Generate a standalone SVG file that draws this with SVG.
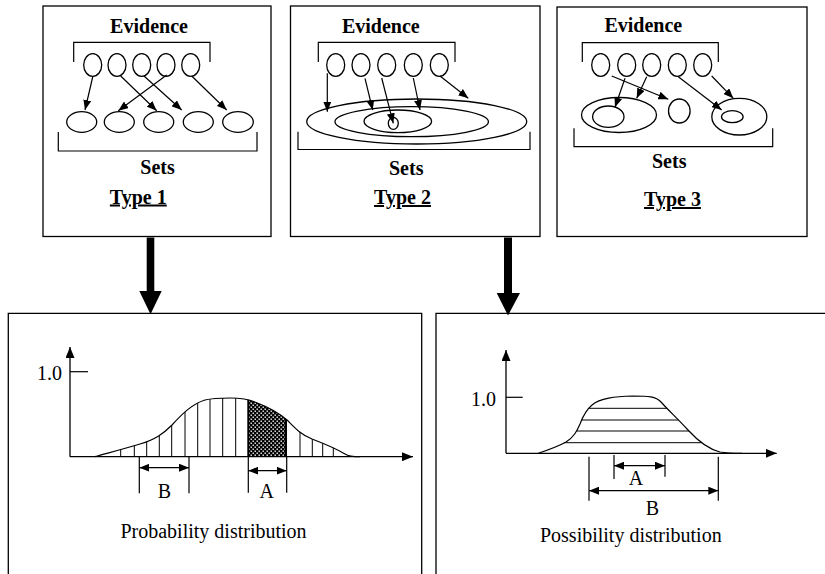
<svg xmlns="http://www.w3.org/2000/svg" width="825" height="574" viewBox="0 0 825 574">
  <style>
    .frame { fill: none; stroke: #000; stroke-width: 1.3; }
    .ln { fill: none; stroke: #000; stroke-width: 1.2; }
    .ell { fill: #fff; stroke: #000; stroke-width: 1.3; }
    .bold { font-family: "Liberation Serif", "Times New Roman", serif; font-weight: bold; font-size: 20px; text-anchor: middle; fill: #000; }
    .reg { font-family: "Liberation Serif", "Times New Roman", serif; font-size: 20px; text-anchor: middle; fill: #000; }
    .arrow { fill: none; stroke: #000; stroke-width: 1.2; marker-end: url(#head); }
    .dim { fill: none; stroke: #000; stroke-width: 1.2; marker-start: url(#head); marker-end: url(#head); }
    .axis { fill: none; stroke: #000; stroke-width: 1.3; marker-end: url(#axhead); }
    .hatch { stroke: #000; stroke-width: 1; }
    .big { fill: #000; stroke: none; }
  </style>
  <defs>
    <marker id="head" viewBox="0 0 10 8" refX="10" refY="4" markerWidth="10" markerHeight="8" markerUnits="userSpaceOnUse" orient="auto-start-reverse">
      <path d="M0,0 L10,4 L0,8 Z" fill="#000"/>
    </marker>
    <marker id="axhead" viewBox="0 0 11 9" refX="11" refY="4.5" markerWidth="11" markerHeight="9" markerUnits="userSpaceOnUse" orient="auto">
      <path d="M0,0 L11,4.5 L0,9 Z" fill="#000"/>
    </marker>
    <pattern id="dots" width="4" height="4" patternUnits="userSpaceOnUse">
      <rect width="4" height="4" fill="#000"/>
      <rect x="0.5" y="0.5" width="1.4" height="1.4" fill="#fff"/>
      <rect x="2.5" y="2.5" width="1.4" height="1.4" fill="#fff"/>
    </pattern>
    <clipPath id="probArea">
      <path d="M95,456.7 C110,452.5 125,448.5 140,444 C155,439.5 163,434 172,425 C182,414 192,404 205,400 C212,398.3 220,398 230,398 C240,398 248,399 255,402 C268,407 278,412 287,420 C295,428 300,434 312,439 C325,444 335,448 345,454 C348,456 352,456.7 360,456.7 Z"/>
    </clipPath>
    <clipPath id="possArea">
      <path d="M538.3,453.3 C548,450 558,446.5 566,442 C574,437 577,431 580,424 C583,416 586,410 592,405 C600,398 615,396.5 633,396 C648,396 656,396.5 661,402 C668,410 678,419 688,430 C698,441 708,449 720,452 C728,453.3 735,453.3 742,453.3 Z"/>
    </clipPath>
  </defs>

  <!-- Type 1: evidence mapped to disjoint sets -->
  <g id="type1">
    <rect class="frame" x="43" y="6" width="228" height="230.5"/>
    <text class="bold" x="149" y="32.7">Evidence</text>
    <path class="ln" d="M73.7,62 V42.3 H210 V62"/>
    <ellipse class="ell" cx="92.7" cy="65" rx="9" ry="11.3"/>
    <ellipse class="ell" cx="117" cy="65" rx="9" ry="11.3"/>
    <ellipse class="ell" cx="141.7" cy="65" rx="9" ry="11.3"/>
    <ellipse class="ell" cx="166" cy="65" rx="9" ry="11.3"/>
    <ellipse class="ell" cx="190.7" cy="65" rx="9" ry="11.3"/>
    <ellipse class="ell" cx="81.7" cy="122" rx="15" ry="10.3"/>
    <ellipse class="ell" cx="119.3" cy="122" rx="15" ry="10.3"/>
    <ellipse class="ell" cx="158.7" cy="122" rx="15" ry="10.3"/>
    <ellipse class="ell" cx="198.3" cy="122" rx="15" ry="10.3"/>
    <ellipse class="ell" cx="238" cy="122" rx="15.3" ry="10.3"/>
    <path class="ln" d="M58.3,132 V151 H257 V132"/>
    <text class="bold" x="157.5" y="174">Sets</text>
    <text class="bold" x="138.3" y="203.5" text-decoration="underline">Type 1</text>
  </g>

  <!-- Type 2: evidence mapped to nested sets -->
  <g id="type2">
    <rect class="frame" x="290.5" y="6" width="249.5" height="230.5"/>
    <text class="bold" x="380.8" y="32.7">Evidence</text>
    <path class="ln" d="M318.3,62 V42.3 H455 V62"/>
    <ellipse class="ell" cx="335.7" cy="65" rx="9" ry="11.3"/>
    <ellipse class="ell" cx="361" cy="65" rx="9" ry="11.3"/>
    <ellipse class="ell" cx="386.7" cy="65" rx="9" ry="11.3"/>
    <ellipse class="ell" cx="413.3" cy="65" rx="9" ry="11.3"/>
    <ellipse class="ell" cx="439.3" cy="65" rx="9" ry="11.3"/>
    <ellipse class="ell" cx="416.7" cy="121.5" rx="110" ry="22.5"/>
    <ellipse class="ell" cx="411.7" cy="121.7" rx="76.7" ry="15"/>
    <ellipse class="ell" cx="397.8" cy="121.3" rx="33.8" ry="11.3"/>
    <ellipse class="ell" cx="393.3" cy="123.3" rx="5" ry="6"/>
    <path class="ln" d="M298,131.7 V149.5 H530 V131.7"/>
    <text class="bold" x="406.2" y="175">Sets</text>
    <text class="bold" x="402.5" y="204" text-decoration="underline">Type 2</text>
  </g>

  <!-- Type 3: evidence mapped to partly nested sets -->
  <g id="type3">
    <rect class="frame" x="557" y="7" width="250" height="229.5"/>
    <text class="bold" x="643.3" y="32.3">Evidence</text>
    <path class="ln" d="M582.3,62 V42.7 H718.3 V62"/>
    <ellipse class="ell" cx="600.7" cy="65" rx="9" ry="11.3"/>
    <ellipse class="ell" cx="626.7" cy="65" rx="9" ry="11.3"/>
    <ellipse class="ell" cx="651.7" cy="65" rx="9" ry="11.3"/>
    <ellipse class="ell" cx="677.3" cy="65" rx="9" ry="11.3"/>
    <ellipse class="ell" cx="702.7" cy="65" rx="9" ry="11.3"/>
    <ellipse class="ell" cx="619" cy="115" rx="37.5" ry="17.5"/>
    <ellipse class="ell" cx="608.3" cy="116.7" rx="15.7" ry="10.7"/>
    <ellipse class="ell" cx="679.3" cy="111" rx="10.8" ry="12"/>
    <ellipse class="ell" cx="739.3" cy="116.7" rx="27.5" ry="18.3"/>
    <ellipse class="ell" cx="732.3" cy="116.7" rx="10.8" ry="6"/>
    <path class="ln" d="M574,128.3 V146.7 H772.7 V128.3"/>
    <text class="bold" x="669.2" y="168.3">Sets</text>
    <text class="bold" x="672.5" y="206" text-decoration="underline">Type 3</text>
  </g>

  <!-- Probability distribution panel -->
  <g id="probability">
    <path class="frame" d="M8.3,580 V313.3 H421.7 V580"/>
    <g clip-path="url(#probArea)">
      <rect x="248.3" y="390" width="37.7" height="70" fill="url(#dots)"/>
      <path class="hatch" d="M120.7,390 V457 M134.3,390 V457 M146.7,390 V457 M159.3,390 V457 M171.7,390 V457 M185,390 V457 M197.7,390 V457 M210,390 V457 M222.7,390 V457 M235.7,390 V457 M300,390 V457 M312.3,390 V457 M322.7,390 V457 M333.3,390 V457"/>
      <path d="M248.3,390 V457 M286,390 V457" stroke="#000" stroke-width="2"/>
    </g>
    <path class="ln" d="M95,456.7 C110,452.5 125,448.5 140,444 C155,439.5 163,434 172,425 C182,414 192,404 205,400 C212,398.3 220,398 230,398 C240,398 248,399 255,402 C268,407 278,412 287,420 C295,428 300,434 312,439 C325,444 335,448 345,454 C348,456 352,456.7 360,456.7"/>
    <path class="axis" d="M70,456.7 V347"/>
    <path class="axis" d="M70,456.7 H413"/>
    <path class="ln" d="M70,371.7 H88"/>
    <text class="reg" x="62" y="380" style="text-anchor:end">1.0</text>
    <path class="ln" d="M139.3,456.7 V493.3 M189,456.7 V493.3"/>
    <path class="dim" d="M139.3,467.7 H189"/>
    <text class="reg" x="164.3" y="498.3">B</text>
    <path class="ln" d="M248.3,456.7 V492.7 M286.7,456.7 V492.7"/>
    <path class="dim" d="M248.3,470.7 H286.7"/>
    <text class="reg" x="266.7" y="498">A</text>
    <text class="reg" x="213.5" y="538">Probability distribution</text>
  </g>

  <!-- Possibility distribution panel -->
  <g id="possibility">
    <path class="frame" d="M436,580 V313.3 H830"/>
    <g clip-path="url(#possArea)">
      <path class="hatch" stroke-width="1.3" d="M540,408.3 H745 M540,420 H745 M540,431 H745 M540,442.7 H745"/>
    </g>
    <path class="ln" d="M538.3,453.3 C548,450 558,446.5 566,442 C574,437 577,431 580,424 C583,416 586,410 592,405 C600,398 615,396.5 633,396 C648,396 656,396.5 661,402 C668,410 678,419 688,430 C698,441 708,449 720,452 C728,453.3 735,453.3 742,453.3"/>
    <path class="axis" d="M506,453.3 V350"/>
    <path class="axis" d="M506,453.3 H776.7"/>
    <path class="ln" d="M506,397.3 H522.7"/>
    <text class="reg" x="496" y="406" style="text-anchor:end">1.0</text>
    <path class="ln" d="M614,455 V479 M665,455 V476.7"/>
    <path class="dim" d="M614,465.7 H665"/>
    <text class="reg" x="636" y="485">A</text>
    <path class="ln" d="M589,456.7 V500.7 M718.3,456.7 V500.7"/>
    <path class="dim" d="M589,490.7 H718.3"/>
    <text class="reg" x="652.3" y="515">B</text>
    <text class="reg" x="630.8" y="541.7">Possibility distribution</text>
  </g>

  <!-- Connectors: evidence-to-set arrows and the two heavy arrows down to the panels -->
  <g id="connectors">
    <path class="arrow" d="M92.7,77 L85,110"/>
    <path class="arrow" d="M120.7,76 L156.7,110.7"/>
    <path class="arrow" d="M144,76 L181.7,110"/>
    <path class="arrow" d="M166.7,75 L118.3,110.7"/>
    <path class="arrow" d="M191.7,76 L226.7,110"/>

    <path class="arrow" d="M327.3,73.3 L327.3,111.7"/>
    <path class="arrow" d="M365,78.3 L372.7,110"/>
    <path class="arrow" d="M381.7,78 L393.3,123.3"/>
    <path class="arrow" d="M413.3,78 L420,110"/>
    <path class="arrow" d="M440,76 L468.3,98.3"/>

    <path class="arrow" d="M625,78.3 L615,107.3"/>
    <path class="arrow" d="M646.7,76.7 L636.7,98.3"/>
    <path class="arrow" d="M611.7,76 L668.3,99.3"/>
    <path class="arrow" d="M678.3,76.7 L721.7,110"/>
    <path class="arrow" d="M711.7,76 L733.3,98.3"/>

    <path class="big" d="M146.7,237.5 H154.3 V291 H161.7 L150.5,314.3 L139.3,291 H146.7 Z"/>
    <path class="big" d="M504,237.5 H512 V293 H520 L508,315.5 L496.7,293 H504 Z"/>
  </g>
</svg>
